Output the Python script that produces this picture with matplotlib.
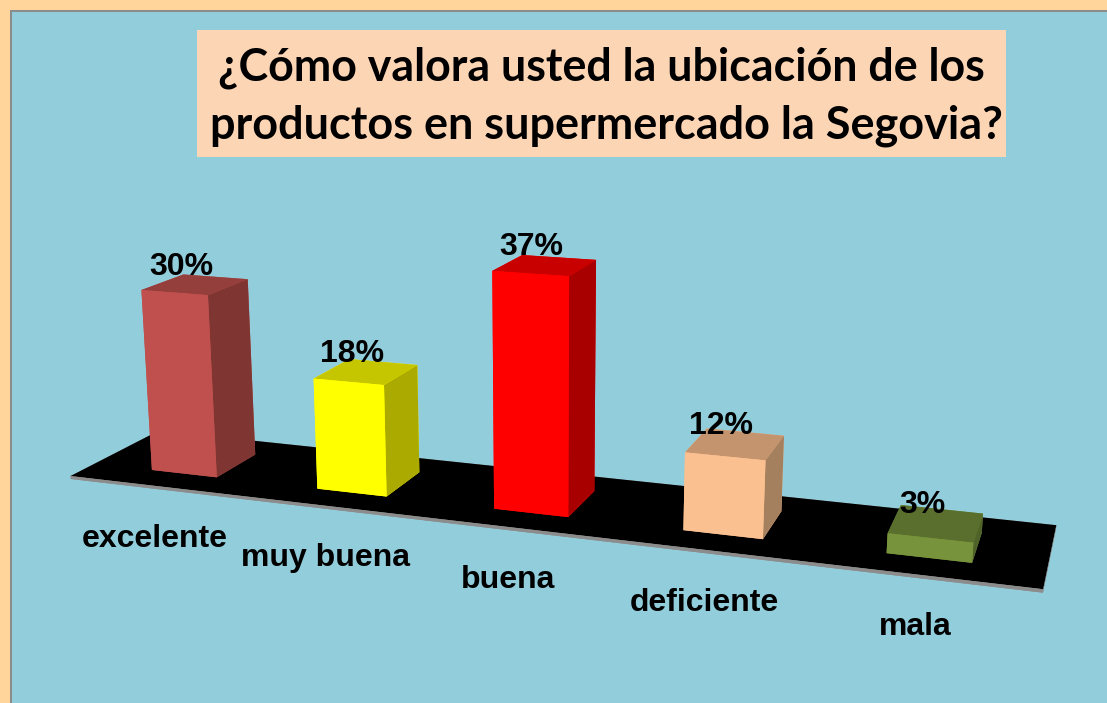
import matplotlib
matplotlib.use("Agg")
import matplotlib.pyplot as plt
from matplotlib.patches import Rectangle
from mpl_toolkits.mplot3d import proj3d

categories = ["excelente", "muy buena", "buena", "deficiente", "mala"]
values = [30, 18, 37, 12, 3]
value_labels = ["30%", "18%", "37%", "12%", "3%"]
front_colors = ["#C0504D", "#FFFF00", "#FF0000", "#FBC08F", "#77933C"]
top_colors = ["#953F3C", "#C6C600", "#C80000", "#C4946E", "#5A6F2D"]
side_colors = ["#7F3633", "#AAAA00", "#A80000", "#A5805F", "#4F6228"]

W, H = 1107, 703
fig = plt.figure(figsize=(W / 100, H / 100), dpi=100, facecolor="#FFD59B")

def px_rect(x0, y0, x1, y1, **kw):
    fig.add_artist(Rectangle((x0 / W, 1 - y1 / H), (x1 - x0) / W, (y1 - y0) / H,
                             transform=fig.transFigure, linewidth=0, **kw))

px_rect(10, 10, W + 5, H + 5, facecolor="#8C8C8C", zorder=-3)
px_rect(12, 12, W + 5, H + 5, facecolor="#92CDDC", zorder=-2)
px_rect(197, 30, 1006, 157, facecolor="#FCD5B5", zorder=-1)

fig.text(601 / W, 1 - 68 / H, "¿Cómo valora usted la ubicación de los", family="Lato",
         weight="bold", fontsize=32.2, ha="center", va="center", color="black")
fig.text(606 / W, 1 - 126 / H, "productos en supermercado la Segovia?", family="Lato",
         weight="bold", fontsize=32.4, ha="center", va="center", color="black")

cx, cy = 530, 390
ax = fig.add_axes([(cx - W / 2) / W, (H - cy - W / 2) / H, 1, W / H], projection="3d")
ax.set_proj_type("persp", focal_length=0.30)
ax.view_init(elev=14.7, azim=-71, roll=0)
ax.set_box_aspect((1.64, 0.30, 0.44), zoom=0.903)
ax.set_xlim(0, len(categories), view_margin=0)
ax.set_ylim(0, 1, view_margin=0)
ax.set_zlim(0, 40, view_margin=0)
ax.set_axis_off()
ax.patch.set_visible(False)
ax.computed_zorder = False

# floor slab (order of faces: bottom, top, front, back, left, right)
ax.bar3d(-0.06, 0, -0.5, len(categories) + 0.1, 1, 0.5, shade=False, linewidth=0, zorder=1,
         color=["#8C8C8C", "#000000", "#8C8C8C", "#8C8C8C", "#8C8C8C", "#8C8C8C"])

M = ax.get_proj()
def project(x, y, z):
    px, py, _ = proj3d.proj_transform(x, y, z, M)
    return px, py

bar_w, bar_d = 0.4, 0.48
for i, v in enumerate(values):
    ax.bar3d(i + 0.5 - bar_w / 2, 0.5 - bar_d / 2, 0, bar_w, bar_d, v, shade=False,
             linewidth=0, zorder=2 + i,
             color=[front_colors[i], top_colors[i], front_colors[i],
                    front_colors[i], front_colors[i], side_colors[i]])
    ax.annotate(value_labels[i], xy=project(i + 0.5, 0.5, v), xytext=(-14, 18),
                textcoords="offset pixels", family="Liberation Sans", weight="bold",
                fontsize=23, ha="center", va="center", color="black", zorder=20)
    ax.annotate(categories[i], xy=project(i + 0.5, 0, 0), xytext=(-7, -52),
                textcoords="offset pixels", family="Liberation Sans", weight="bold",
                fontsize=23, ha="center", va="center", color="black", zorder=20)

fig.savefig("out.png", dpi=100, facecolor=fig.get_facecolor())
